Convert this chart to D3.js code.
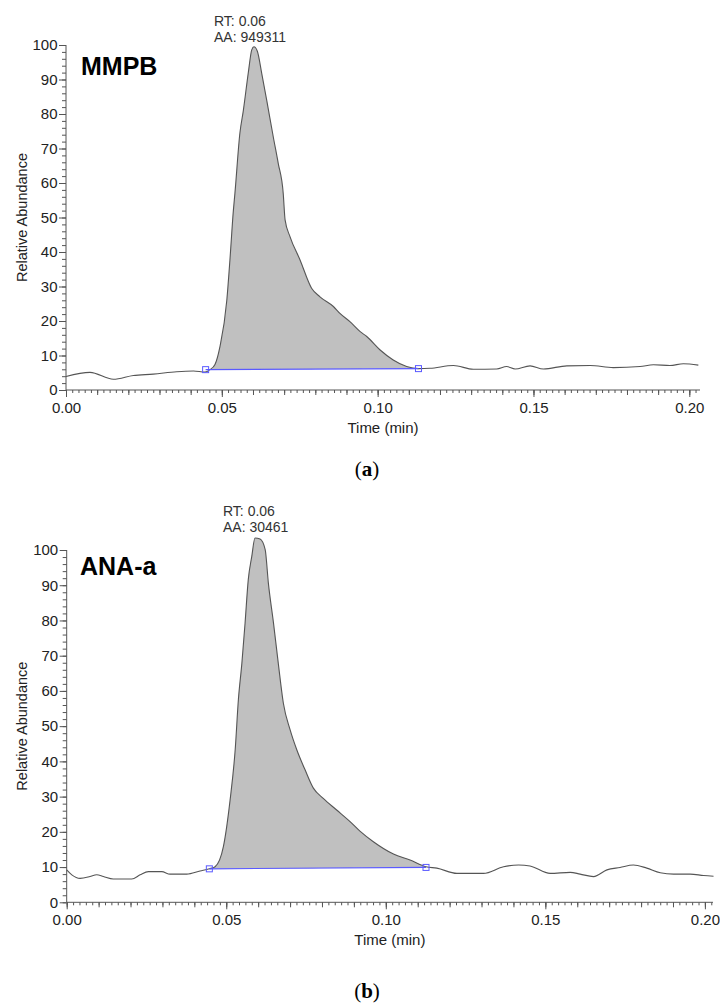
<!DOCTYPE html>
<html>
<head>
<meta charset="utf-8">
<script src="https://cdn.jsdelivr.net/npm/d3@7"></script>
<style>
  html, body { margin: 0; padding: 0; background: #fff; }
  svg { display: block; font-family: "Liberation Sans", Arial, sans-serif; }
</style>
</head>
<body>
<svg id="chart" width="720" height="1006"></svg>
<script>
// ---------- Data ----------
// Panel (a) MMPB
const timeA = [0, 0.0077, 0.0152, 0.0216, 0.028, 0.0355, 0.0409, 0.0446, 0.0462, 0.0478, 0.0494, 0.0516, 0.0526,
  0.0537, 0.0542, 0.0558, 0.0569, 0.0585, 0.0596, 0.0603, 0.0614, 0.0628, 0.0644, 0.0665, 0.0681, 0.0697,
  0.0703, 0.0719, 0.0751, 0.0788, 0.0815, 0.0858, 0.0879, 0.0911, 0.0944, 0.0965, 0.1008, 0.105, 0.1093,
  0.1131, 0.1168, 0.1243, 0.1307, 0.1382, 0.1414, 0.1441, 0.1489, 0.1532, 0.1607, 0.1682, 0.1756, 0.1842,
  0.1885, 0.1938, 0.1981, 0.2029];
const abundA = [3.9, 5.1, 3.1, 4.2, 4.6, 5.3, 5.5, 5.2, 5.9, 7.4, 12.6, 26, 37.7,
  52, 57, 74.5, 81, 92, 98.6, 99.5, 98.2, 91.8, 84, 73.4, 65.7, 57,
  49.3, 44.4, 37.7, 29.5, 27, 24.2, 22.2, 19.8, 16.9, 15.5, 11.6, 8.7, 6.8,
  6.2, 6.3, 7.1, 6.0, 6.1, 6.8, 6.1, 7.0, 6.1, 7.0, 7.1, 6.5, 6.8,
  7.3, 7.1, 7.6, 7.2];
const baselineTimeA = [0.0448, 0.1131];
const baselineAbundA = [5.9, 6.2];
const labelA = "MMPB";
const annotA = ["RT: 0.06", "AA: 949311"];

// Panel (b) ANA-a
const timeB = [0, 0.0016, 0.0042, 0.0073, 0.0094, 0.0115, 0.0146, 0.0204, 0.023, 0.0256, 0.0298, 0.0324,
  0.0376, 0.0418, 0.0447, 0.0465, 0.0491, 0.0512, 0.0528, 0.0538, 0.0549, 0.0559, 0.0569, 0.058, 0.059,
  0.0606, 0.0622, 0.0632, 0.0648, 0.0663, 0.0679, 0.07, 0.0721, 0.0747, 0.0773, 0.0804, 0.0846, 0.0888,
  0.0919, 0.0961, 0.1024, 0.1076, 0.1126, 0.116, 0.1223, 0.1306, 0.1369, 0.1416, 0.1452, 0.1515, 0.1578,
  0.1609, 0.1651, 0.1693, 0.1734, 0.1776, 0.1818, 0.186, 0.1902, 0.1954, 0.1996, 0.2027];
const abundB = [9.2, 7.8, 6.8, 7.3, 7.8, 7.3, 6.6, 6.6, 7.8, 8.7, 8.7, 8.0,
  8.0, 8.9, 9.5, 10.1, 15.8, 29, 43.3, 57.5, 67.9, 79.3, 91.6, 98.2, 103.4,
  103.1, 100.1, 90.6, 79.3, 67.9, 56.5, 49, 43.3, 37.6, 32.4, 29.5, 26.2, 22.9,
  20.2, 17.2, 13.7, 12, 10.1, 9.7, 8.2, 8.2, 10.1, 10.6, 10.3, 8.2, 8.5,
  8.0, 7.3, 9.2, 9.9, 10.6, 9.7, 8.4, 8.0, 8.0, 7.6, 7.4];
const baselineTimeB = [0.0447, 0.1126];
const baselineAbundB = [9.5, 9.9];
const labelB = "ANA-a";
const annotB = ["RT: 0.06", "AA: 30461"];

const xMajorTicks = [0, 0.05, 0.10, 0.15, 0.20];
const yMajorTicks = [0, 10, 20, 30, 40, 50, 60, 70, 80, 90, 100];
const xTitle = "Time (min)";
const yTitle = "Relative Abundance";
const captions = ["a", "b"];

// ---------- Drawing ----------
const svg = d3.select("#chart");
const textColor = "#222";
const axisColor = "#555";

function panel(cfg) {
  const g = svg.append("g");
  const x = d3.scaleLinear().domain([0, cfg.xMax]).range([cfg.left, cfg.right]);
  const y = d3.scaleLinear().domain([0, 100]).range([cfg.bottom, cfg.top]);

  const data = cfg.time.map((t, i) => ({ t: t, v: cfg.abund[i] }));
  const bl = d3.scaleLinear().domain(cfg.blTime).range(cfg.blAbund);

  // fill area between trace and baseline
  const inside = data.filter(d => d.t > cfg.blTime[0] && d.t < cfg.blTime[1]);
  const areaData = [{ t: cfg.blTime[0], v: bl(cfg.blTime[0]) }]
    .concat(inside)
    .concat([{ t: cfg.blTime[1], v: bl(cfg.blTime[1]) }]);
  const area = d3.area()
    .x(d => x(d.t))
    .y0(d => y(bl(d.t)))
    .y1(d => y(Math.max(d.v, bl(d.t))))
    .curve(d3.curveMonotoneX);
  g.append("path").datum(areaData)
    .attr("d", area)
    .attr("fill", "#c0c0c0")
    .attr("stroke", "none");

  // trace
  const line = d3.line().x(d => x(d.t)).y(d => y(d.v)).curve(d3.curveMonotoneX);
  g.append("path").datum(data)
    .attr("d", line)
    .attr("fill", "none")
    .attr("stroke", "#555")
    .attr("stroke-width", 1.1);

  // baseline
  g.append("line")
    .attr("x1", x(cfg.blTime[0])).attr("y1", y(cfg.blAbund[0]))
    .attr("x2", x(cfg.blTime[1])).attr("y2", y(cfg.blAbund[1]))
    .attr("stroke", "#5a5aff").attr("stroke-width", 1.1);
  // markers
  g.selectAll("rect.mk").data([0, 1]).enter().append("rect")
    .attr("class", "mk")
    .attr("x", i => x(cfg.blTime[i]) - 3)
    .attr("y", i => y(cfg.blAbund[i]) - 3)
    .attr("width", 6).attr("height", 6)
    .attr("fill", "none").attr("stroke", "#5a5aff").attr("stroke-width", 1);

  // X axis: minor, medium, major
  const xMinor = d3.range(0, cfg.xMax + 1e-9, 0.002).map(v => +v.toFixed(3));
  const xMed = d3.range(0, cfg.xMax + 1e-9, 0.01).map(v => +v.toFixed(3));
  const gxMinor = g.append("g").attr("transform", `translate(0,${cfg.bottom})`)
    .call(d3.axisBottom(x).tickValues(xMinor).tickSize(3).tickFormat(""));
  const gxMed = g.append("g").attr("transform", `translate(0,${cfg.bottom})`)
    .call(d3.axisBottom(x).tickValues(xMed).tickSize(5).tickFormat(""));
  const gx = g.append("g").attr("transform", `translate(0,${cfg.bottom})`)
    .call(d3.axisBottom(x).tickValues(xMajorTicks).tickSize(7).tickPadding(5)
      .tickFormat(d3.format(".2f")));
  [gxMinor, gxMed, gx].forEach(a => {
    a.selectAll("path").attr("stroke", axisColor);
    a.selectAll("line").attr("stroke", axisColor);
  });
  gxMinor.select("path").remove();
  gxMed.select("path").remove();
  gx.selectAll("text").attr("font-size", 15).attr("fill", textColor)
    .attr("font-family", "Liberation Sans, Arial, sans-serif");

  // Y axis: minor and major
  const yMinor = d3.range(0, 101, 2);
  const gyMinor = g.append("g").attr("transform", `translate(${cfg.left},0)`)
    .call(d3.axisLeft(y).tickValues(yMinor).tickSize(4).tickFormat(""));
  const gy = g.append("g").attr("transform", `translate(${cfg.left},0)`)
    .call(d3.axisLeft(y).tickValues(yMajorTicks).tickSize(7).tickPadding(1.5)
      .tickFormat(d3.format("d")));
  [gyMinor, gy].forEach(a => {
    a.selectAll("path").attr("stroke", axisColor);
    a.selectAll("line").attr("stroke", axisColor);
  });
  gyMinor.select("path").remove();
  gy.select("path").attr("d", `M-0,${cfg.bottom}V${cfg.top}`);
  gy.selectAll("text").attr("font-size", 15).attr("fill", textColor)
    .attr("font-family", "Liberation Sans, Arial, sans-serif");
  gx.select("path").attr("d", `M${cfg.left},0H${cfg.right}`);

  // titles
  g.append("text")
    .attr("x", (cfg.left + cfg.right) / 2)
    .attr("y", cfg.bottom + 43)
    .attr("text-anchor", "middle")
    .attr("font-size", 15).attr("fill", textColor)
    .text(xTitle);
  g.append("text")
    .attr("transform", `translate(27,${(cfg.top + cfg.bottom) / 2}) rotate(-90)`)
    .attr("text-anchor", "middle")
    .attr("font-size", 14.5).attr("fill", textColor)
    .text(yTitle);

  // compound label
  g.append("text")
    .attr("x", cfg.labelX).attr("y", cfg.labelY)
    .attr("font-size", 25).attr("font-weight", "bold").attr("fill", "#000")
    .text(cfg.label);

  // peak annotation
  g.selectAll("text.annot").data(cfg.annot).enter().append("text")
    .attr("class", "annot")
    .attr("x", cfg.annotX)
    .attr("y", (d, i) => cfg.annotY + i * 15.5)
    .attr("font-size", 14).attr("fill", "#333")
    .text(d => d);

  // caption
  const cap = svg.append("text")
    .attr("x", cfg.capX)
    .attr("y", cfg.capY)
    .attr("text-anchor", "middle")
    .attr("font-family", "Liberation Serif, 'DejaVu Serif', serif")
    .attr("font-size", 21).attr("fill", "#000");
  cap.append("tspan").text("(");
  cap.append("tspan").attr("font-weight", "bold").text(cfg.caption);
  cap.append("tspan").text(")");
}

panel({
  time: timeA, abund: abundA, blTime: baselineTimeA, blAbund: baselineAbundA,
  left: 66, right: 700, top: 45, bottom: 390, xMax: (700 - 66) / 3116.5,
  label: labelA, labelX: 81, labelY: 75,
  annot: annotA, annotX: 214, annotY: 26,
  caption: captions[0], capX: 367, capY: 476
});
panel({
  time: timeB, abund: abundB, blTime: baselineTimeB, blAbund: baselineAbundB,
  left: 66.7, right: 713, top: 550, bottom: 902.3, xMax: (713 - 66.7) / 3191,
  label: labelB, labelX: 80, labelY: 575,
  annot: annotB, annotX: 223, annotY: 516,
  caption: captions[1], capX: 367, capY: 998
});
</script>
</body>
</html>
